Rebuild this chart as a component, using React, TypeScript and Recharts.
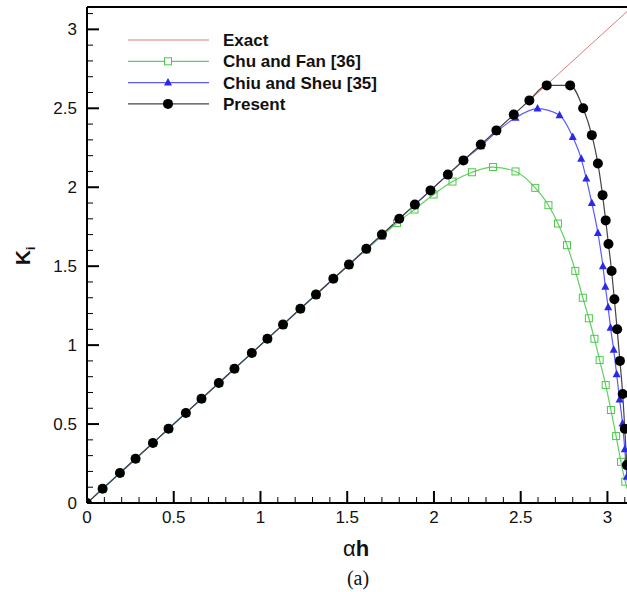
import React from "react";
import { LineChart, Line, XAxis, YAxis, ReferenceLine, Legend } from "recharts";

const xTicks = [0, 0.1, 0.2, 0.3, 0.4, 0.5, 0.6, 0.7, 0.8, 0.9, 1, 1.1, 1.2, 1.3, 1.4, 1.5, 1.6, 1.7, 1.8, 1.9, 2, 2.1, 2.2, 2.3, 2.4, 2.5, 2.6, 2.7, 2.8, 2.9, 3, 3.1];
const yTicks = [0, 0.1, 0.2, 0.3, 0.4, 0.5, 0.6, 0.7, 0.8, 0.9, 1, 1.1, 1.2, 1.3, 1.4, 1.5, 1.6, 1.7, 1.8, 1.9, 2, 2.1, 2.2, 2.3, 2.4, 2.5, 2.6, 2.7, 2.8, 2.9, 3, 3.1];
const majorLabels = ["0", "0.5", "1", "1.5", "2", "2.5", "3"];

const exactData = [
  { x: 0, y: 0 },
  { x: 3.1416, y: 3.1416 },
];

const chuFanData = [
  { x: 0, y: 0 }, { x: 0.09, y: 0.09 }, { x: 0.19, y: 0.19 }, { x: 0.28, y: 0.28 }, { x: 0.38, y: 0.38 },
  { x: 0.47, y: 0.47 }, { x: 0.57, y: 0.57 }, { x: 0.66, y: 0.66 }, { x: 0.76, y: 0.76 }, { x: 0.85, y: 0.85 },
  { x: 0.95, y: 0.95 }, { x: 1.04, y: 1.04 }, { x: 1.13, y: 1.13 }, { x: 1.23, y: 1.23 }, { x: 1.32, y: 1.32 },
  { x: 1.42, y: 1.42 }, { x: 1.51, y: 1.51 }, { x: 1.61, y: 1.605 }, { x: 1.7, y: 1.692 },
  { x: 1.787, y: 1.774 }, { x: 1.888, y: 1.859 }, { x: 1.998, y: 1.954 }, { x: 2.107, y: 2.036 },
  { x: 2.219, y: 2.095 }, { x: 2.34, y: 2.128 }, { x: 2.47, y: 2.1 }, { x: 2.584, y: 1.996 },
  { x: 2.66, y: 1.886 }, { x: 2.715, y: 1.77 }, { x: 2.767, y: 1.633 }, { x: 2.815, y: 1.47 },
  { x: 2.858, y: 1.3 }, { x: 2.893, y: 1.17 }, { x: 2.925, y: 1.04 }, { x: 2.955, y: 0.905 },
  { x: 2.99, y: 0.747 }, { x: 3.02, y: 0.589 }, { x: 3.05, y: 0.424 }, { x: 3.078, y: 0.261 },
  { x: 3.103, y: 0.135 }, { x: 3.1416, y: 0 },
];

const chiuSheuData = [
  { x: 0, y: 0 }, { x: 0.09, y: 0.09 }, { x: 0.19, y: 0.19 }, { x: 0.28, y: 0.28 }, { x: 0.38, y: 0.38 },
  { x: 0.47, y: 0.47 }, { x: 0.57, y: 0.57 }, { x: 0.66, y: 0.66 }, { x: 0.76, y: 0.76 }, { x: 0.85, y: 0.85 },
  { x: 0.95, y: 0.95 }, { x: 1.04, y: 1.04 }, { x: 1.13, y: 1.13 }, { x: 1.23, y: 1.23 }, { x: 1.32, y: 1.32 },
  { x: 1.42, y: 1.42 }, { x: 1.51, y: 1.51 }, { x: 1.61, y: 1.61 }, { x: 1.7, y: 1.7 }, { x: 1.8, y: 1.8 },
  { x: 1.89, y: 1.89 }, { x: 1.98, y: 1.98 }, { x: 2.08, y: 2.08 }, { x: 2.17, y: 2.17 }, { x: 2.27, y: 2.26 },
  { x: 2.36, y: 2.35 }, { x: 2.47, y: 2.44 }, { x: 2.597, y: 2.498 }, { x: 2.724, y: 2.456 },
  { x: 2.8, y: 2.318 }, { x: 2.849, y: 2.18 }, { x: 2.878, y: 2.055 }, { x: 2.91, y: 1.9 },
  { x: 2.945, y: 1.71 }, { x: 2.974, y: 1.5 }, { x: 2.988, y: 1.37 }, { x: 3.004, y: 1.24 },
  { x: 3.018, y: 1.11 }, { x: 3.036, y: 0.97 }, { x: 3.053, y: 0.816 }, { x: 3.07, y: 0.656 },
  { x: 3.087, y: 0.504 }, { x: 3.1, y: 0.34 }, { x: 3.112, y: 0.166 }, { x: 3.1416, y: 0 },
];

const presentData = [
  { x: 0, y: 0 }, { x: 0.09, y: 0.09 }, { x: 0.19, y: 0.19 }, { x: 0.28, y: 0.28 }, { x: 0.38, y: 0.38 },
  { x: 0.47, y: 0.47 }, { x: 0.57, y: 0.57 }, { x: 0.66, y: 0.66 }, { x: 0.76, y: 0.76 }, { x: 0.85, y: 0.85 },
  { x: 0.95, y: 0.95 }, { x: 1.04, y: 1.04 }, { x: 1.13, y: 1.13 }, { x: 1.23, y: 1.23 }, { x: 1.32, y: 1.32 },
  { x: 1.42, y: 1.42 }, { x: 1.51, y: 1.51 }, { x: 1.61, y: 1.61 }, { x: 1.7, y: 1.7 }, { x: 1.8, y: 1.8 },
  { x: 1.89, y: 1.89 }, { x: 1.98, y: 1.98 }, { x: 2.08, y: 2.08 }, { x: 2.17, y: 2.17 }, { x: 2.27, y: 2.27 },
  { x: 2.36, y: 2.36 }, { x: 2.46, y: 2.46 }, { x: 2.55, y: 2.55 }, { x: 2.65, y: 2.645 },
  { x: 2.785, y: 2.645 }, { x: 2.86, y: 2.5 }, { x: 2.91, y: 2.33 }, { x: 2.945, y: 2.15 },
  { x: 2.972, y: 1.95 }, { x: 2.99, y: 1.79 }, { x: 3.006, y: 1.64 }, { x: 3.024, y: 1.47 },
  { x: 3.04, y: 1.29 }, { x: 3.056, y: 1.1 }, { x: 3.072, y: 0.9 }, { x: 3.088, y: 0.69 },
  { x: 3.1, y: 0.47 }, { x: 3.112, y: 0.24 }, { x: 3.1416, y: 0 },
];

const legendItems = [
  { name: "Exact", color: "#e07a7a", marker: "none" },
  { name: "Chu and Fan [36]", color: "#5fd05f", marker: "square" },
  { name: "Chiu and Sheu [35]", color: "#5a5aff", marker: "triangle" },
  { name: "Present", color: "#444444", marker: "circle" },
];

const FONT = "'Liberation Sans', Arial, Helvetica, sans-serif";

const isMajor = (v: number) => Math.abs(v * 2 - Math.round(v * 2)) < 1e-6;

const XTick = (props: any) => {
  const { x, y, payload } = props;
  const v = payload.value;
  const major = isMajor(v);
  return (
    <g>
      <line x1={x} x2={x} y1={y} y2={y - (major ? 12 : 6)} stroke="#000" strokeWidth={major ? 2 : 1} />
      {major && (
        <text x={x} y={y + 20} textAnchor="middle" fontFamily={FONT} fontSize={17} fill="#111">
          {majorLabels[Math.round(v * 2)]}
        </text>
      )}
    </g>
  );
};

const YTick = (props: any) => {
  const { x, y, payload } = props;
  const v = payload.value;
  const major = isMajor(v);
  return (
    <g>
      <line x1={x} x2={x + (major ? 12 : 6)} y1={y} y2={y} stroke="#000" strokeWidth={major ? 2 : 1} />
      {major && (
        <text x={x - 10} y={y + 6} textAnchor="end" fontFamily={FONT} fontSize={17} fill="#111">
          {majorLabels[Math.round(v * 2)]}
        </text>
      )}
    </g>
  );
};

const SquareDot = (props: any) => {
  const { cx, cy, index } = props;
  if (cx == null || cy == null) return <g key={index} />;
  return <rect key={index} x={cx - 3.5} y={cy - 3.5} width={7} height={7} fill="none" stroke="#4cc84c" strokeWidth={1} />;
};

const TriDot = (props: any) => {
  const { cx, cy, index } = props;
  if (cx == null || cy == null) return <g key={index} />;
  return <polygon key={index} points={`${cx},${cy - 4.5} ${cx - 4},${cy + 3} ${cx + 4},${cy + 3}`} fill="#2a2ae6" />;
};

const CircleDot = (props: any) => {
  const { cx, cy, index } = props;
  if (cx == null || cy == null) return <g key={index} />;
  return <circle key={index} cx={cx} cy={cy} r={5} fill="#000" />;
};

const LegendContent = () => (
  <svg width={400} height={120} style={{ display: "block" }}>
    {legendItems.map((it, i) => {
      const y = 40 + i * 21.3;
      return (
        <g key={it.name}>
          <line x1={128} x2={209} y1={y} y2={y} stroke={it.color} strokeWidth={1.2} />
          {it.marker === "square" && <rect x={164.5} y={y - 3.5} width={7} height={7} fill="#fff" stroke="#4cc84c" />}
          {it.marker === "triangle" && <polygon points={`168,${y - 4.5} 164,${y + 3} 172,${y + 3}`} fill="#2a2ae6" />}
          {it.marker === "circle" && <circle cx={168} cy={y} r={5} fill="#000" />}
          <text x={223} y={y + 6} fontFamily={FONT} fontWeight="bold" fontSize={17} fill="#111">
            {it.name}
          </text>
        </g>
      );
    })}
  </svg>
);

export default function App() {
  return (
    <div style={{ position: "absolute", left: 0, top: 0, width: 627, height: 592, overflow: "hidden", background: "#fff" }}>
      <LineChart width={640} height={592} margin={{ top: 7, right: 8, bottom: 0, left: 0 }}>
        <XAxis
          type="number"
          dataKey="x"
          domain={[0, 3.1416]}
          ticks={xTicks}
          interval={0}
          tickSize={0}
          tickMargin={0}
          tickLine={false}
          tick={<XTick />}
          height={89}
          axisLine={{ stroke: "#000", strokeWidth: 2 }}
          allowDataOverflow
        />
        <YAxis
          type="number"
          dataKey="y"
          domain={[0, 3.1416]}
          ticks={yTicks}
          interval={0}
          tickSize={0}
          tickMargin={0}
          tickLine={false}
          tick={<YTick />}
          width={87}
          axisLine={{ stroke: "#000", strokeWidth: 2 }}
          allowDataOverflow
        />
        <ReferenceLine y={3.1416} stroke="#000" strokeWidth={2} />
        <Legend
          layout="vertical"
          align="center"
          verticalAlign="middle"
          content={<LegendContent />}
          wrapperStyle={{ position: "absolute", left: 0, top: 0, width: 400, height: 120 }}
        />
        <Line data={exactData} dataKey="y" type="linear" stroke="#e07a7a" strokeWidth={1} dot={false} isAnimationActive={false} name="Exact" legendType="none" />
        <Line data={chuFanData} dataKey="y" type="monotone" stroke="#5fd05f" strokeWidth={1.2} dot={SquareDot} isAnimationActive={false} name="Chu and Fan [36]" />
        <Line data={chiuSheuData} dataKey="y" type="monotone" stroke="#5a5aff" strokeWidth={1.2} dot={TriDot} isAnimationActive={false} name="Chiu and Sheu [35]" />
        <Line data={presentData} dataKey="y" type="monotone" stroke="#444444" strokeWidth={1.2} dot={CircleDot} isAnimationActive={false} name="Present" />
      </LineChart>
      <svg width={627} height={592} style={{ position: "absolute", left: 0, top: 0, pointerEvents: "none" }}>
        <text transform="translate(30,256) rotate(-90)" textAnchor="middle" fontFamily={FONT} fontWeight="bold" fontSize={21} fill="#111">
          K<tspan fontSize={12} dy={5}>i</tspan>
        </text>
        <text x={356} y={556} textAnchor="middle" fontFamily={FONT} fontSize={22} fill="#111">
          α<tspan fontWeight="bold">h</tspan>
        </text>
        <text x={358} y={585} textAnchor="middle" fontFamily="'Liberation Serif', 'Times New Roman', serif" fontSize={20} fill="#111">
          (a)
        </text>
      </svg>
    </div>
  );
}
